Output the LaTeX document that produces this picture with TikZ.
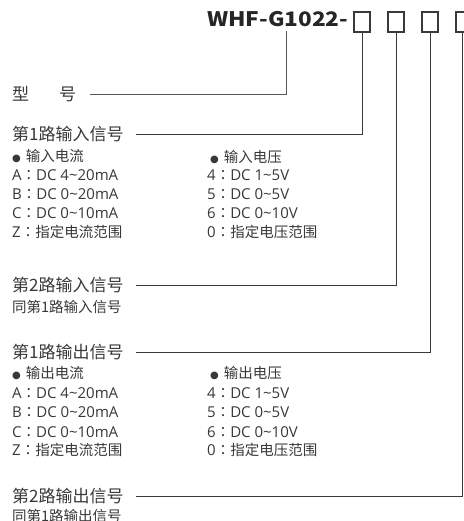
\documentclass[tikz,border=0pt]{standalone}
\usepackage{graphicx}
\usepackage{fontspec}
\setmainfont{Noto Sans CJK SC}
\newfontfamily\dejavu{DejaVu Sans}
\newfontfamily\osans{Open Sans}
\newfontfamily\cjktc{Noto Sans CJK TC}
\definecolor{txt}{HTML}{383838}
\definecolor{ln}{HTML}{3A3A3A}
\tikzset{
  hdr/.style={anchor=west, inner sep=0pt, text=txt, font=\fontsize{17}{17}\selectfont},
  sub/.style={anchor=west, inner sep=0pt, text=txt, font=\fontsize{14.5}{14.5}\selectfont},
  ttl/.style={anchor=base west, inner sep=0pt, text=black!85, font=\fontsize{20}{20}\selectfont\bfseries},
  codebox/.style={draw=ln, line width=1.1pt, minimum width=16pt, minimum height=20pt, inner sep=0pt},
  lead/.style={draw=ln, line width=0.9pt},
}
\newcommand{\blt}{{\dejavu\fontsize{10}{10}\selectfont ●}\hspace{5pt}}
\newcommand{\lat}[1]{{\osans\fontsize{15}{15}\selectfont #1}}
\newcommand{\cln}{{\cjktc ：}}
\begin{document}
\begin{tikzpicture}[x=1pt,y=-1pt]
\useasboundingbox (0,0) rectangle (463,521);
% title and boxes
\node[ttl] (title) at (207,27) {\scalebox{1.13}[1]{WHF-G1022-}};
\node[codebox] (b1) at (362,22) {};
\node[codebox] (b2) at (396,22) {};
\node[codebox] (b3) at (430,22) {};
\node[codebox] (b4) at (464,22) {};
\coordinate (tg) at (286,31);
% model
\node[hdr] (model) at (12,94) {型\hspace{30pt}号};
\draw[lead, draw=ln!85] ([xshift=14pt]model.east) -| (tg);
% input 1
\node[hdr] (in1) at (12,134) {第1路输入信号};
\draw[lead] ([xshift=12pt]in1.east) -| (b1.south);
\node[sub] (i1a) at (12,156) {\blt 输入电流};
\node[sub] (i1b) at (12,175) {\lat{A}\cln\lat{DC 4\char`~20mA}};
\node[sub] (i1c) at (12,194) {\lat{B}\cln\lat{DC 0\char`~20mA}};
\node[sub] (i1d) at (12,213) {\lat{C}\cln\lat{DC 0\char`~10mA}};
\node[sub] (i1e) at (12,232) {\lat{Z}\cln 指定电流范围};
\node[sub] (i1f) at (210,157) {\blt 输入电压};
\node[sub] (i1g) at (207,175) {\lat{4}\cln\lat{DC 1\char`~5V}};
\node[sub] (i1h) at (207,194) {\lat{5}\cln\lat{DC 0\char`~5V}};
\node[sub] (i1i) at (207,213) {\lat{6}\cln\lat{DC 0\char`~10V}};
\node[sub] (i1j) at (207,232) {\lat{0}\cln 指定电压范围};
% input 2
\node[hdr] (in2) at (12,285) {第2路输入信号};
\draw[lead] ([xshift=12pt]in2.east) -| (b2.south);
\node[sub] (i2a) at (12,307) {同第1路输入信号};
% output 1
\node[hdr] (out1) at (12,352) {第1路输出信号};
\draw[lead] ([xshift=12pt]out1.east) -| (b3.south);
\node[sub] (o1a) at (12,373) {\blt 输出电流};
\node[sub] (o1b) at (12,393) {\lat{A}\cln\lat{DC 4\char`~20mA}};
\node[sub] (o1c) at (12,412) {\lat{B}\cln\lat{DC 0\char`~20mA}};
\node[sub] (o1d) at (12,432) {\lat{C}\cln\lat{DC 0\char`~10mA}};
\node[sub] (o1e) at (12,450) {\lat{Z}\cln 指定电流范围};
\node[sub] (o1f) at (210,373) {\blt 输出电压};
\node[sub] (o1g) at (207,393) {\lat{4}\cln\lat{DC 1\char`~5V}};
\node[sub] (o1h) at (207,412) {\lat{5}\cln\lat{DC 0\char`~5V}};
\node[sub] (o1i) at (207,432) {\lat{6}\cln\lat{DC 0\char`~10V}};
\node[sub] (o1j) at (207,450) {\lat{0}\cln 指定电压范围};
% output 2
\node[hdr] (out2) at (12,496) {第2路输出信号};
\draw[lead] ([xshift=12pt]out2.east) -| ([xshift=-1.5pt]b4.south);
\node[sub] (o2a) at (12,516) {同第1路输出信号};
\end{tikzpicture}
\end{document}
